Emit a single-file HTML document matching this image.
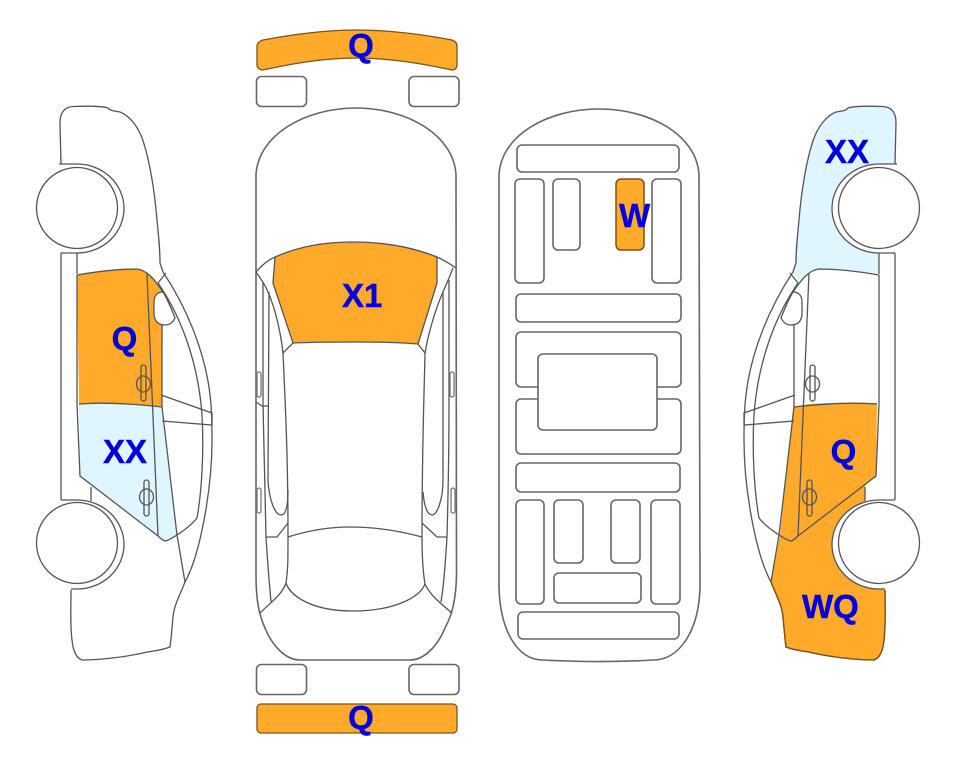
<!DOCTYPE html>
<html><head><meta charset="utf-8"><style>
html,body{margin:0;padding:0;background:#fff}
svg{display:block}
.l{fill:none;stroke:#555;stroke-width:1.3}
.r{fill:#fff;stroke:#666;stroke-width:1.6}
.o{fill:#FFAA2B}
.b{fill:#DFF5FF}
text{font-family:"Liberation Sans",sans-serif;font-weight:bold;font-size:33px;fill:#0000DC;stroke:#0000DC;stroke-width:.4}
</style></head><body>
<svg width="963" height="768" viewBox="0 0 963 768" xmlns="http://www.w3.org/2000/svg">
<defs>
<g id="side">
<path class="l" d="M61 164 L60 123 C60 112 65 107 73 106.500 C85 106 100 105.500 108 108 C110 111 115 111 120 112 C130 116 138 127 142 138 C150 160 155 195 157 220 C159 240 160 250 160 263 L163 272 C185 305 205 350 210 395 C212 410 212 425 212 440 C212 490 200 555 185 582 C180 595 174 605 173 617 C172 628 171 640 170 647 C160 651 150 651 143 653 C125 657 100 660 82 660 C76 658 73 650 72 640 C70 625 71 605 71 590"/>
<path class="l" d="M166 273 L158 283 M158 283 C180 315 198 360 202 415 C204 450 202 490 197 518 C190 527 180 533 177 535 C172 538 168 541 165 541 C162 540 160 538 158 536"/>
<path class="l" d="M61 253 L61 500 M77 253 L77 274 M147 273 L158 536 M162 300 L162 407 L177 535 L185 582"/>
<path class="l" d="M77 275 L77 404 L80 476 L158 536 M91 487 L91 501"/>
<path class="l" d="M77 275 C100 271 120 269 137 269 C147 270 155 280 163 292"/>
<path class="l" d="M79 404 C105 402 135 404 162 407"/>
<path class="l" d="M161 395 L212 413 L212 425 L162 421"/>
<path class="r" style="stroke:#555;stroke-width:1.3" d="M163 292 C157 292 154 296 154 302 L154 315 C155 323 160 325 165 325 C170 325 173 322 175 318 C171 308 168 300 163 292 Z"/>
<rect x="141" y="365" width="5" height="36" rx="2.500" class="l"/>
<ellipse cx="143.500" cy="384" rx="7" ry="8" class="l"/>
<rect x="144" y="480" width="5" height="36" rx="2.500" class="l"/>
<ellipse cx="146.500" cy="497" rx="7" ry="8" class="l"/>
<path d="M59 164 H77 A47 44.500 0 0 1 77 253 H61" fill="#fff" stroke="#555" stroke-width="1.300"/>
<circle cx="77" cy="208" r="40.500" fill="#fff" stroke="#555" stroke-width="1.300"/>
<path d="M61 500 H77 A47 44.500 0 0 1 77 589 H71" fill="#fff" stroke="#555" stroke-width="1.300"/>
<circle cx="77" cy="543" r="40.500" fill="#fff" stroke="#555" stroke-width="1.300"/>
</g>
</defs>

<!-- left car fills -->
<path class="o" d="M77 275 C100 271 120 269 137 269 C147 270 155 280 163 292 L162 407 C135 404 105 402 79 404 Z"/>
<path class="b" d="M79 404 C105 402 135 404 162 407 L177 535 C172 538 168 541 165 541 C162 540 160 538 158 536 L80 476 Z"/>
<use href="#side"/>

<!-- right car fills -->
<path class="b" d="M896 123 C896 112 891 107 883 106.500 C871 106 856 105.500 848 108 C846 111 841 111 836 112 C826 116 818 127 814 138 C806 160 801 195 799 220 C797 240 796 250 796 263 L793 272 L798 282 C803 278 808 272 819 269 C840 269 860 271 879 274 L880 164 L896 164 Z"/>
<path class="o" d="M802 405 C825 402 850 403 877 403 L876 476 L865 484 L865 502 L885 588 C885 605 886 625 884 640 C883 650 880 658 874 660 C856 660 831 657 813 653 C806 651 796 651 786 647 C785 640 784 628 783 617 C782 605 776 595 771 582 L780 535 L793 408 Z"/>
<use href="#side" transform="matrix(-1 0 0 1 956 0)"/>
<path d="M771 582 C776 595 782 605 783 617 C784 628 785 640 786 647 C796 651 806 651 813 653 C831 657 856 660 874 660 C880 658 883 650 884 640 C886 625 885 605 885 590" fill="none" stroke="#7a5418" stroke-width="1.300"/>

<!-- top view -->
<path class="o" d="M263 40 C295 34 325 30 357 30 C389 30 420 34 452 40 C455 41 457 43 457 46 L457 65 C457 68 455 70 452 70 C420 63 389 58 357 58 C325 58 295 63 263 70 C260 70 257 68 257 65 L257 46 C257 43 260 41 263 40 Z" stroke="#7a5418" stroke-width="1.300"/>
<rect x="256.500" y="76.500" width="50" height="30" rx="5" class="r"/>
<rect x="409" y="76.500" width="50" height="30" rx="5" class="r"/>
<rect x="256.500" y="664.500" width="50" height="30" rx="5" class="r"/>
<rect x="409" y="664.500" width="50" height="30" rx="5" class="r"/>
<rect x="257" y="704" width="200" height="29" rx="4" class="o" stroke="#7a5418" stroke-width="1.300"/>
<path class="o" d="M275 257 C300 246 325 242 353 242 C385 242 412 247 437 257 L437 283 L418 344 C395 342 375 342 357 342 C335 342 315 342 293 343 L273 283 Z"/>
<path class="l" style="stroke-width:1.600;stroke:#666" d="M256 175 C258 135 305 108 356 108 C407 108 454 135 456 175 L456.500 575 C456 600 452 615 445 628 C438 645 425 660 410 660 L300 660 C285 660 272 645 265 628 C259 615 256 600 256 575 Z"/>
<path class="l" d="M256 272 C262 265 268 260 275 257 C300 246 325 242 353 242 C385 242 412 247 437 257 C444 260 450 264 456 268"/>
<path class="l" d="M275 257 L273 283 L293 343 C315 342 335 342 357 342 C375 342 395 342 418 344 L437 283 L437 257"/>
<path class="l" d="M256 272 C262 280 266 287 268 292 C276 310 281 335 283 353 L293 343 M453 268 C450 276 446 285 443 292 C435 310 428 335 425 353 L418 344"/>
<path class="l" d="M283 353 C285 400 288 450 288 537 C288 560 288 570 286 583 M425 353 C424 400 422 450 422 537 C422 560 423 572 425 584"/>
<path class="l" d="M263 282 L263 402 C264 450 265 500 266 537 C268 570 270 590 271 602 M269 292 L268 480 M449 280 L449 402 C449 450 448 500 447 537 C445 570 443 590 441 602 M443 292 L443 480"/>
<path class="l" d="M268 480 C269 500 275 515 281 515 C286 515 288 505 288 490 M443 480 C443 500 437 515 432 515 C427 515 424 505 423 492"/>
<path class="l" d="M256 402 L262 406 L269 406 M288 523 L277 537 L266 537 M422 523 L437 537 L447 537"/>
<path class="l" d="M288 537 C310 530 330 527 350 527 C375 527 400 531 422 537"/>
<path class="l" d="M286 583 C290 595 310 611 353 611 C395 611 420 597 425 584"/>
<path class="l" d="M260 613 C270 603 282 595 286 583 M452 613 C440 603 430 595 425 584"/>
<rect x="257" y="372" width="4" height="25" rx="2" class="l" style="stroke:#777"/>
<rect x="450" y="372" width="4" height="25" rx="2" class="l" style="stroke:#777"/>
<rect x="257" y="488" width="4" height="25" rx="2" class="l" style="stroke:#777"/>
<rect x="451" y="488" width="4" height="25" rx="2" class="l" style="stroke:#777"/>

<!-- underside -->
<path class="l" style="stroke-width:1.600;stroke:#666" d="M499 175 C501 135 548 109 599 109 C650 109 697 135 699 175 L700 587 C699 630 680 660 653 660 C620 662 580 662 543 660 C517 660 500 630 499 587 Z"/>
<rect x="517" y="145" width="162" height="27" rx="5" class="r"/>
<rect x="515" y="179" width="29" height="104" rx="5" class="r"/>
<rect x="553" y="179" width="27" height="71" rx="5" class="r"/>
<rect x="616" y="179" width="28" height="71" rx="5" class="o" stroke="#7a5418" stroke-width="1.500"/>
<rect x="652" y="179" width="29" height="104" rx="5" class="r"/>
<rect x="516" y="294" width="165" height="28" rx="5" class="r"/>
<rect x="516" y="332" width="165" height="55" rx="5" class="r"/>
<rect x="516" y="399" width="165" height="55" rx="5" class="r"/>
<rect x="538" y="354" width="119" height="76" rx="5" class="r"/>
<rect x="516" y="463" width="164" height="29" rx="5" class="r"/>
<rect x="516" y="500" width="28" height="104" rx="5" class="r"/>
<rect x="554" y="500" width="29" height="63" rx="5" class="r"/>
<rect x="611" y="500" width="29" height="63" rx="5" class="r"/>
<rect x="651" y="500" width="29" height="104" rx="5" class="r"/>
<rect x="554" y="573" width="87" height="30" rx="5" class="r"/>
<rect x="518" y="612" width="161" height="27" rx="5" class="r"/>

<!-- labels -->
<text x="361" y="57" text-anchor="middle">Q</text>
<text x="361" y="729" text-anchor="middle">Q</text>
<text x="342" y="307">X1</text>
<text x="619" y="227">W</text>
<text x="124.500" y="350" text-anchor="middle">Q</text>
<text x="103" y="463">XX</text>
<text x="825" y="163">XX</text>
<text x="843.500" y="463" text-anchor="middle">Q</text>
<text x="802" y="618">WQ</text>
</svg>
</body></html>
